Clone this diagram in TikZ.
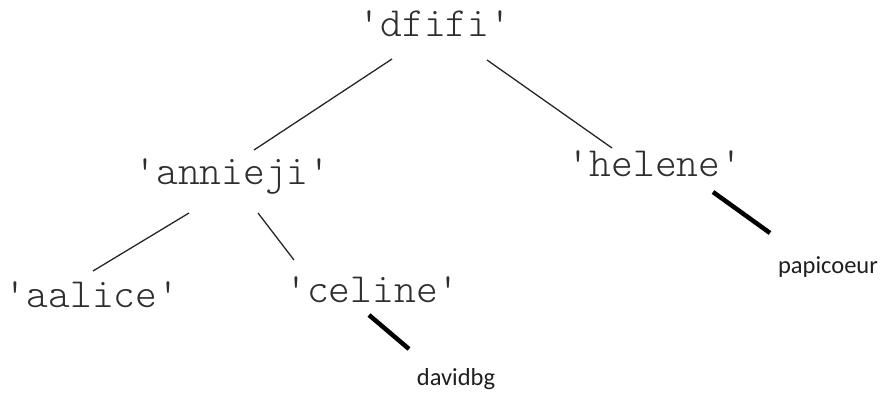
\documentclass[tikz,border=0pt]{standalone}
\usepackage{fontspec}
\setmonofont{Latin Modern Mono Light}
\newfontfamily\labelfont{Carlito}
\definecolor{keytext}{HTML}{2E2E2E}
\definecolor{labtext}{HTML}{1E1E1E}
\begin{document}
\begin{tikzpicture}[x=1pt,y=-1pt,
  key/.style={anchor=base,inner sep=0pt,text=keytext,font=\ttfamily\fontsize{41.5}{44}\selectfont},
  lab/.style={anchor=base,inner sep=0pt,text=labtext,font=\labelfont\fontsize{24.5}{28}\selectfont},
  edge/.style={line width=1.3pt,draw=black!85},
  thick edge/.style={line width=4.5pt,draw=black}]
\useasboundingbox (0,0) rectangle (886,394);
\node[key] (dfifi) at (435,36) {'dfifi'};
\node[key] (annieji) at (232.5,184) {'annieji'};
\node[key] (helene) at (655,176) {'helene'};
\node[key] (aalice) at (92,307) {'aalice'};
\node[key] (celine) at (372.5,302) {'celine'};
\node[lab] (papi) at (828,273) {papicoeur};
\node[lab] (david) at (456,385) {davidbg};
\coordinate (d1) at (392,59);
\coordinate (a1) at (254,150);
\coordinate (d2) at (487,60);
\coordinate (h1) at (612,148);
\coordinate (a2) at (189,213);
\coordinate (al1) at (93,271);
\coordinate (a3) at (258,213);
\coordinate (c1) at (294,260);
\coordinate (h2) at (713,192);
\coordinate (p1) at (770,233);
\coordinate (c2) at (369,315);
\coordinate (dv1) at (409,349);
\draw[edge] (d1) -- (a1);
\draw[edge] (d2) -- (h1);
\draw[edge] (a2) -- (al1);
\draw[edge] (a3) -- (c1);
\draw[thick edge] (h2) -- (p1);
\draw[thick edge] (c2) -- (dv1);
\end{tikzpicture}
\end{document}
